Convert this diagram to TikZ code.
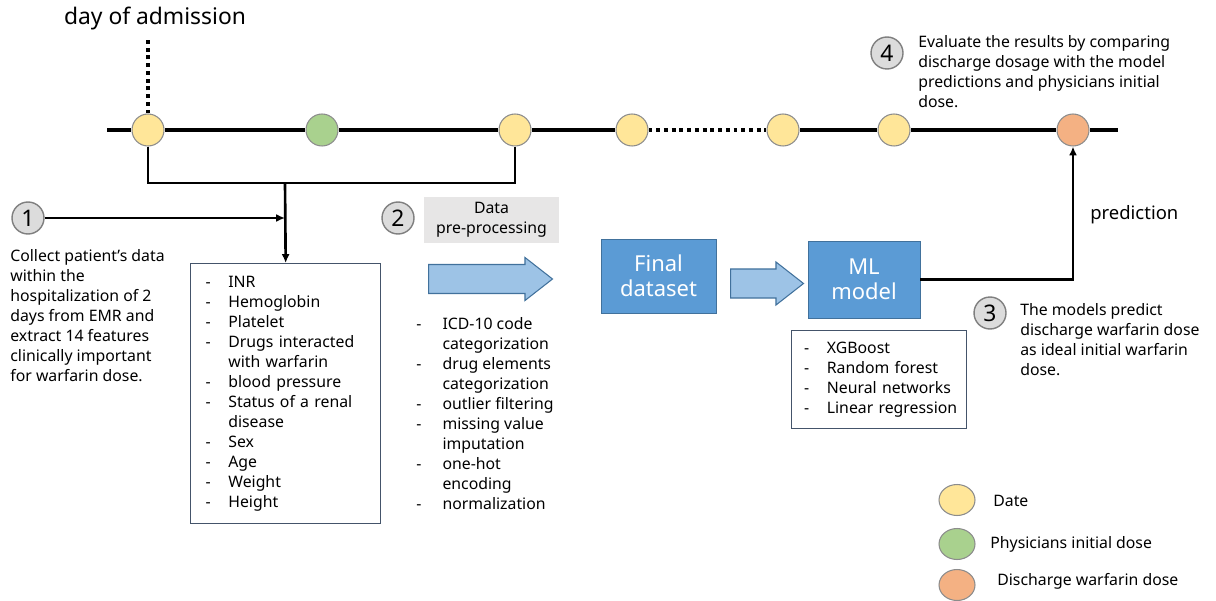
\documentclass[tikz,border=0pt]{standalone}
\usepackage{fontspec}
\setmainfont{Noto Sans}
\usetikzlibrary{arrows.meta,shapes.arrows,shapes.geometric}
\definecolor{datefill}{HTML}{FFE699}
\definecolor{dosefill}{HTML}{A9D18E}
\definecolor{dischfill}{HTML}{F4B183}
\definecolor{dotline}{HTML}{8C8C8C}
\definecolor{numfill}{HTML}{DCDCDC}
\definecolor{numline}{HTML}{7F7F7F}
\definecolor{bluefill}{HTML}{5B9BD5}
\definecolor{blueline}{HTML}{41719C}
\definecolor{arrowfill}{HTML}{9DC3E6}
\definecolor{grayfill}{HTML}{E7E6E6}
\definecolor{listline}{HTML}{44546A}

\begin{document}
\begin{tikzpicture}[x=0.02cm,y=-0.02cm,
every node/.style={font=\fontsize{9}{11.4}\selectfont,inner sep=0pt},
day/.style={circle,draw=dotline,line width=0.6pt,minimum size=0.64cm},
legend/.style={ellipse,draw=dotline,line width=0.6pt,minimum width=0.72cm,minimum height=0.62cm},
num/.style={circle,draw=numline,fill=numfill,line width=0.8pt,minimum size=0.64cm,font=\fontsize{13}{13}\selectfont},
bluebox/.style={draw=blueline,fill=bluefill,text=white,align=center,font=\fontsize{12.5}{14.5}\selectfont},
listbox/.style={draw=listline,line width=0.8pt,anchor=north west,inner xsep=0.3cm,align=left},
fatarrow/.style={single arrow,draw=blueline,fill=arrowfill,line width=0.6pt,inner sep=0.28cm,single arrow head extend=0.14cm,single arrow tip angle=76,minimum width=0.84cm,anchor=west},
timeline/.style={line width=2.2pt},
link/.style={line width=1.5pt},
tip/.style={-{Latex[length=5pt,width=4.5pt]}}]
\useasboundingbox (0,0) rectangle (1216,601);

\node[day,fill=datefill] (d1) at (148,130) {};
\node[day,fill=dosefill] (g1) at (322,130) {};
\node[day,fill=datefill] (d2) at (515,130) {};
\node[day,fill=datefill] (d3) at (632,130) {};
\node[day,fill=datefill] (d4) at (783,130) {};
\node[day,fill=datefill] (d5) at (894,130) {};
\node[day,fill=dischfill] (dis) at (1073,130) {};
\coordinate (tl0) at (107,130);
\coordinate (tl1) at (1118,130);
\draw[timeline] (tl0) -- (d1) -- (g1) -- (d2) -- (d3) (d4) -- (d5) -- (dis) -- (tl1);
\draw[timeline,dash pattern=on 2.2pt off 2.2pt] (d3) -- (d4);

\node[font=\fontsize{13}{15}\selectfont] (adm) at (155,19) {day of admission};
\coordinate (admtip) at (148,37);
\draw[timeline,dash pattern=on 2.2pt off 2.2pt] (d1) -- (admtip);

\coordinate (brk) at (285,183);
\draw[link] (d1.south) |- (brk) -| (d2.south);
\node[listbox,minimum height=5.2cm,text width=3.2cm] (feat) at (190,263) {\begin{tabular}{@{}l@{\hspace{10pt}}l@{}}
- & INR\\
- & Hemoglobin\\
- & Platelet\\
- & Drugs interacted\\
  & with warfarin\\
- & blood pressure\\
- & Status of a renal\\
  & disease\\
- & Sex\\
- & Age\\
- & Weight\\
- & Height
\end{tabular}};
\draw[link,tip] (brk) -- (feat.north);

\node[num] (n1) at (28,218) {1};
\draw[link,tip] (n1) -- (n1 -| brk);
\node[anchor=north west,align=left] (collect) at (10,249) {Collect patient’s data\\within the\\hospitalization of 2\\days from EMR and\\extract 14 features\\clinically important\\for warfarin dose.};

\node[num] (n2) at (398,218) {2};
\node[fill=grayfill,minimum width=2.7cm,minimum height=0.92cm,align=center] (prep) at (491.5,220) {Data\\pre-processing};
\node[fatarrow,minimum height=2.48cm] (a1) at (428,279) {};
\node[anchor=north west] (steps) at (416,315) {\begin{tabular}{@{}l@{\hspace{12pt}}l@{}}
- & ICD-10 code\\
  & categorization\\
- & drug elements\\
  & categorization\\
- & outlier filtering\\
- & missing value\\
  & imputation\\
- & one-hot\\
  & encoding\\
- & normalization
\end{tabular}};

\node[bluebox,minimum width=2.3cm,minimum height=1.48cm] (final) at (658.5,276) {Final\\dataset};
\node[fatarrow,minimum height=1.46cm,minimum width=0.86cm] (a2) at (730,283.5) {};
\node[bluebox,minimum width=2.24cm,minimum height=1.54cm] (ml) at (864,279.5) {ML\\model};
\node[listbox,minimum height=1.96cm,text width=3.0cm,inner xsep=0.25cm] (models) at (791,330) {\begin{tabular}{@{}l@{\hspace{10pt}}l@{}}
- & XGBoost\\
- & Random forest\\
- & Neural networks\\
- & Linear regression
\end{tabular}};

\draw[link,tip] (ml) -| (dis);
\node[font=\fontsize{10.5}{12}\selectfont,anchor=west] (pred) at (1090,215) {prediction};

\node[num] (n3) at (990,313) {3};
\node[anchor=north west,align=left] (t3) at (1020,303) {The models predict\\discharge warfarin dose\\as ideal initial warfarin\\dose.};
\node[num] (n4) at (887,53) {4};
\node[anchor=north west,align=left] (t4) at (918,35) {Evaluate the results by comparing\\discharge dosage with the model\\predictions and physicians initial\\dose.};

\node[legend,fill=datefill] (l1) at (957,500) {};
\node[anchor=west] (l1t) at (993,501) {Date};
\node[legend,fill=dosefill] (l2) at (957,544) {};
\node[anchor=west] (l2t) at (990,544) {Physicians initial dose};
\node[legend,fill=dischfill] (l3) at (957,585) {};
\node[anchor=west] (l3t) at (997,581) {Discharge warfarin dose};
\end{tikzpicture}
\end{document}
